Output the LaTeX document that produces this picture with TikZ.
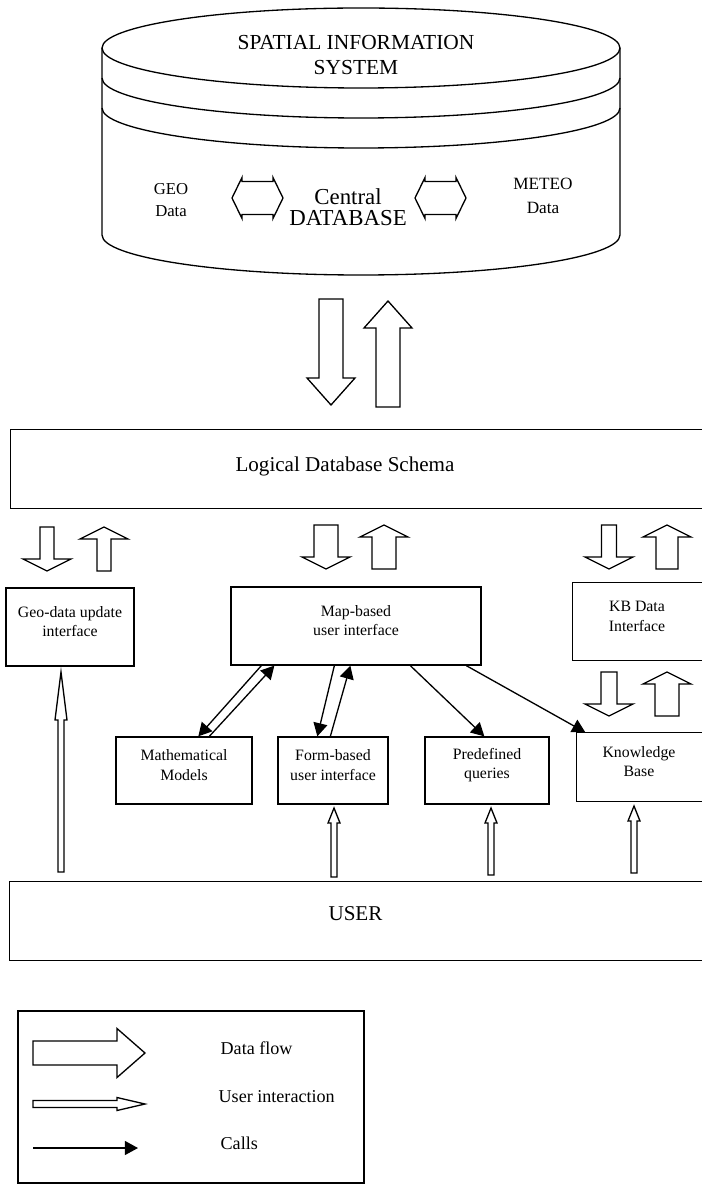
\documentclass[tikz,border=0pt]{standalone}
\usepackage{fontspec}
\setmainfont{Liberation Serif}
\usetikzlibrary{arrows.meta,calc,fit}

\begin{document}
\begin{tikzpicture}[x=0.02cm, y=-0.02cm, line width=0.75pt,
    box/.style={draw, inner sep=0pt, align=center, font=\fontsize{9}{11}\selectfont},
    openbox/.style={inner sep=0pt, align=center, font=\fontsize{9}{11}\selectfont},
    legendtext/.style={anchor=west, inner sep=0pt, font=\fontsize{10.3}{12}\selectfont},
    call/.style={-{Triangle[length=7.5pt, width=8pt]}}]
    \useasboundingbox (0,0) rectangle (701,1185);

    % the database cylinder
    \draw (361,48) ellipse [x radius=259, y radius=40];
    \draw (102,48) -- (102,235) arc [start angle=180, end angle=0, x radius=259, y radius=40] -- (620,48);
    \draw (102,78) arc [start angle=180, end angle=0, x radius=259, y radius=40];
    \draw (102,108) arc [start angle=180, end angle=0, x radius=259, y radius=40];

    \node[align=center, font=\fontsize{12.2}{14.7}\selectfont] (sis) at (356,55) {SPATIAL INFORMATION\\SYSTEM};
    \node[align=center, font=\fontsize{9.5}{13}\selectfont] (geodata) at (171,200) {GEO\\Data};
    \node[align=center, font=\fontsize{13}{12}\selectfont] (central) at (348,207) {Central\\DATABASE};
    \node[align=center, font=\fontsize{9.8}{14}\selectfont] (meteodata) at (543,196) {METEO\\Data};

    \foreach \x in {232,415}
        \draw (\x,198) -- ++(10,-20.5) -- ++(0,4) -- ++(31,0) -- ++(0,-4) -- ++(10,20.5) -- ++(-10,20.5) -- ++(0,-4) -- ++(-31,0) -- ++(0,4) -- cycle;

    % data flow to and from the schema
    \draw (319,299) -- ++(24,0) -- ++(0,79) -- ++(12,0) -- ++(-24,27) -- ++(-24,-27) -- ++(12,0) -- cycle;
    \draw (376,407) -- ++(24,0) -- ++(0,-79) -- ++(12,0) -- ++(-24,-27) -- ++(-24,27) -- ++(12,0) -- cycle;

    \node[openbox, fit={(11,430) (701,508)}] (schema) {};
    \draw (schema.north east) -- (schema.north west) -- (schema.south west) -- (schema.south east);
    \node[font=\fontsize{12}{14}\selectfont] (schematext) at (345,466) {Logical Database Schema};

    \foreach \d/\u/\t/\wd/\wu in {47/104/527/14/14, 326/384/525/24/24, 609/667/525/15/22, 609/667/672/16/24} {
        \draw (\d-\wd/2,\t) -- ++(\wd,0) -- ++(0,32) -- ++(24-\wd/2,0) -- ++(-24,12) -- ++(-24,-12) -- ++(24-\wd/2,0) -- cycle;
        \draw (\u-\wu/2,\t+44) -- ++(\wu,0) -- ++(0,-32) -- ++(24-\wu/2,0) -- ++(-24,-12) -- ++(-24,12) -- ++(24-\wu/2,0) -- cycle;
    }

    % interfaces
    \node[box, fit={(6,588) (134,666)}] (geobox) {Geo-data update\\interface};
    \node[box, fit={(231,587) (481,665)}] (map) {Map-based\\user interface};
    \node[openbox, fit={(573,583) (701,660)}] (kbdata) {KB Data\\Interface};
    \draw (kbdata.north east) -- (kbdata.north west) -- (kbdata.south west) -- (kbdata.south east);

    \node[box, fit={(116,737) (252,804)}] (math) {Mathematical\\Models};
    \node[box, fit={(278,737) (388,804)}] (form) {Form-based\\user interface};
    \node[box, fit={(425,737) (549,804)}] (pred) {Predefined\\queries};
    \node[openbox, fit={(577,733) (701,801)}] (know) {Knowledge\\Base};
    \draw (know.north east) -- (know.north west) -- (know.south west) -- (know.south east);

    \node[openbox, font=\fontsize{12}{14}\selectfont, fit={(10,882) (701,960)}] (user) {USER};
    \draw (user.north east) -- (user.north west) -- (user.south west) -- (user.south east);

    % calls
    \draw[call] ($(map.south west)+(31,0)$) -- ($(math.north west)+(83,0)$);
    \draw[call] ($(math.north west)+(94,0)$) -- ($(map.south west)+(44,0)$);
    \draw[call] ($(map.south west)+(104,0)$) -- ($(form.north west)+(40,0)$);
    \draw[call] ($(form.north west)+(53,0)$) -- ($(map.south west)+(120,0)$);
    \draw[call] ($(map.south west)+(180,0)$) -- ($(pred.north west)+(60,0)$);
    \draw[call] ($(map.south west)+(236,0)$) -- ($(know.north west)+(9,0)$);

    % user interaction
    \foreach \x/\t/\h/\b in {61/672/48/872, 334/808/15/877, 491/808/15/875, 634/806/15/873}
        \draw (\x-3,\b) -- (\x-3,\t+\h) -- (\x-6,\t+\h) -- (\x,\t) -- (\x+6,\t+\h) -- (\x+3,\t+\h) -- (\x+3,\b) -- cycle;

    % legend
    \node[draw, inner sep=0pt, fit={(18,1011) (364,1183)}] (legend) {};
    \draw (33,1041) -- ++(84,0) -- ++(0,-12.5) -- ++(28,24.5) -- ++(-28,24.5) -- ++(0,-12.5) -- ++(-84,0) -- cycle;
    \draw (33,1100.5) -- ++(84,0) -- ++(0,-3) -- ++(28,6.5) -- ++(-28,6.5) -- ++(0,-3) -- ++(-84,0) -- cycle;
    \coordinate (callfrom) at (33,1148);
    \coordinate (callto) at (138,1148);
    \draw[call] (callfrom) -- (callto);
    \node[legendtext] (dflabel) at (220,1048) {Data flow};
    \node[legendtext] (uilabel) at (218,1097) {User interaction};
    \node[legendtext] (calllabel) at (220,1143) {Calls};
\end{tikzpicture}
\end{document}
